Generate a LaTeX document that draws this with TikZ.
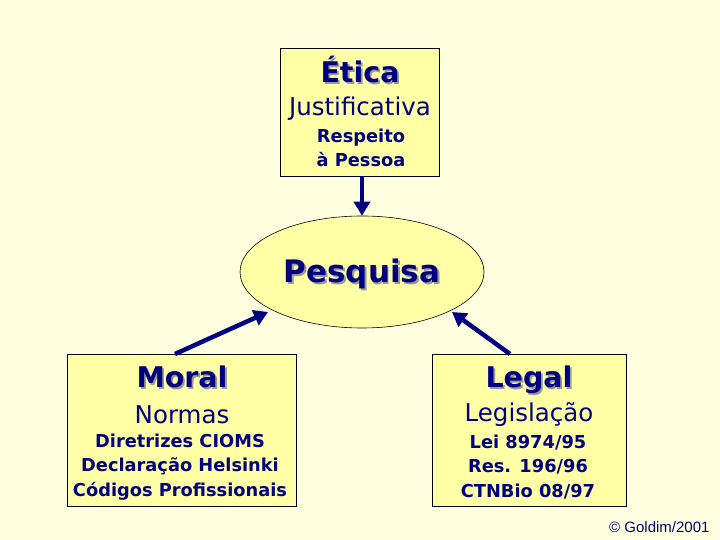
\documentclass[tikz,border=0pt]{standalone}
\usepackage{fontspec}
\setmainfont{DejaVu Sans}
\newfontfamily\arialfont{Liberation Sans}
\usetikzlibrary{shapes.geometric,arrows.meta}
\definecolor{bg}{HTML}{FFFFE0}
\definecolor{boxfill}{HTML}{FFFFA6}
\definecolor{navy}{HTML}{000080}
\newcommand{\shadowed}[1]{\makebox[0pt][l]{\hspace{1.8pt}\raisebox{-1.8pt}{\color{black!40}#1}}#1}
\tikzset{
  card/.style={draw=black, line width=0.6pt, fill=boxfill},
  conn/.style={draw=navy, line width=4.5pt, -{Triangle[length=14pt,width=16pt]}},
  ttl/.style={text=navy, anchor=base, font=\bfseries\fontsize{28.5}{32}\selectfont},
  sub/.style={text=navy, font=\fontsize{24.5}{28}\selectfont},
  det/.style={text=navy, font=\bfseries\fontsize{17.8}{24.3}\selectfont, align=center}
}
\begin{document}
\begin{tikzpicture}[x=1pt,y=1pt]
\useasboundingbox[fill=bg] (0,0) rectangle (720,540);
% boxes
\node[card, minimum width=159pt, minimum height=128pt] (etica) at (359.5,428) {};
\node[card, ellipse, minimum width=244pt, minimum height=112pt] (pesq) at (362,268) {};
\node[card, minimum width=229pt, minimum height=152pt] (moral) at (181.5,110) {};
\node[card, minimum width=194pt, minimum height=152pt] (legal) at (529,110) {};
% Etica texts
\node[ttl] (eticaT) at (360,457) {\shadowed{Ética}};
\node[sub] (eticaS) at (360,431) {Justificativa};
\node[det] (eticaD) at (361,392) {Respeito\\à Pessoa};
% Pesquisa
\node[ttl, font=\bfseries\fontsize{31}{34}\selectfont] (pesqT) at (362,257) {\shadowed{Pesquisa}};
% Moral
\node[ttl] (moralT) at (182,152) {\shadowed{Moral}};
\node[sub] (moralS) at (182,125) {Normas};
\node[det] (moralD) at (180,73) {Diretrizes CIOMS\\Declaração Helsinki\\Códigos Profissionais};
% Legal
\node[ttl] (legalT) at (529,152) {\shadowed{Legal}};
\node[sub] (legalS) at (529,125) {Legislação};
\node[det] (legalD) at (528,73) {Lei 8974/95\\Res. 196/96\\CTNBio 08/97};
% connectors
\coordinate (a1) at (362,364);
\coordinate (m1) at (175,186);
\coordinate (l1) at (510,186);
\draw[conn] (a1) -- (pesq.north);
\draw[conn] (m1) -- (268,228);
\draw[conn] (l1) -- (452,228);
% copyright
\node[text=navy, font=\arialfont\fontsize{15}{17}\selectfont, anchor=east] (copy) at (713,13) {© Goldim/2001};
\end{tikzpicture}
\end{document}
